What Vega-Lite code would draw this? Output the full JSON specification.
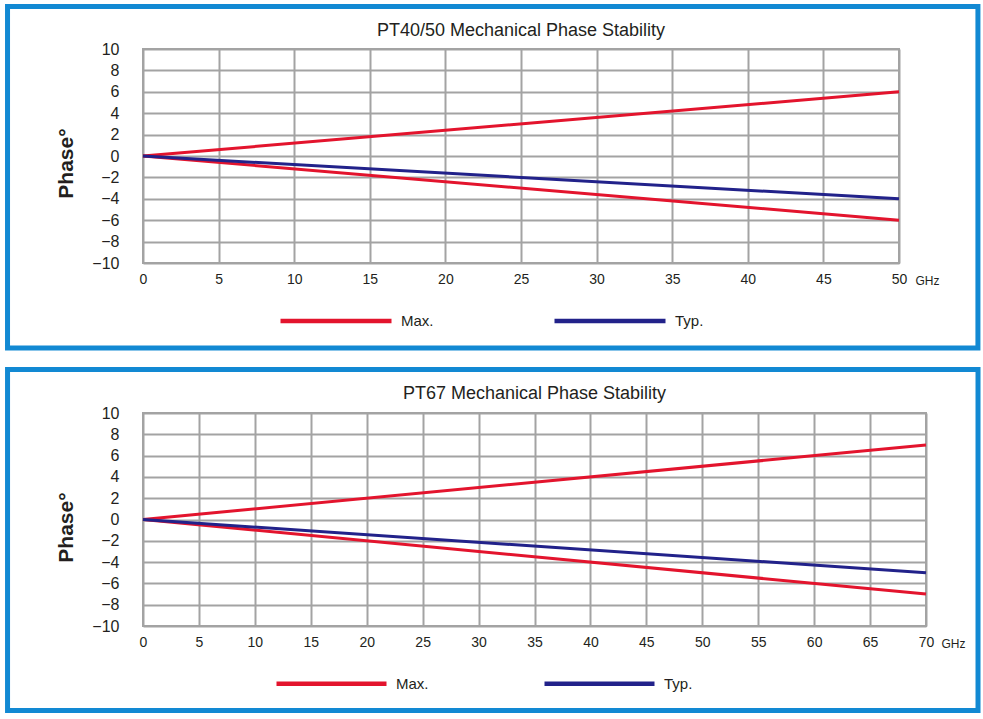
{
  "$schema": "https://vega.github.io/schema/vega-lite/v6.json",
  "padding": {"left": 4, "top": 3, "right": 0, "bottom": 0},
  "background": "white",
  "spacing": 150,
  "bounds": "flush",
  "config": {
    "view": {"stroke": "#a3a3a3", "strokeWidth": 2},
    "axis": {
      "grid": true, "gridColor": "#a3a3a3", "gridWidth": 2, "domain": false, "ticks": false,
      "labelFont": "Liberation Sans", "labelColor": "#231f20", "labelFontSize": 15,
      "labelFlush": false, "labelOverlap": false,
      "titleFont": "Liberation Sans", "titleColor": "#231f20"
    },
    "title": {"font": "Liberation Sans", "fontSize": 18, "fontWeight": "normal", "color": "#231f20", "anchor": "middle", "baseline": "alphabetic", "offset": -36},
    "legend": {"padding": 0}
  },
  "datasets": {
    "pt4050": [
      {"ghz": 0, "phase": 0, "series": "Max.", "branch": "max_up"},
      {"ghz": 50, "phase": 6, "series": "Max.", "branch": "max_up"},
      {"ghz": 0, "phase": 0, "series": "Max.", "branch": "max_down"},
      {"ghz": 50, "phase": -6, "series": "Max.", "branch": "max_down"},
      {"ghz": 0, "phase": 0, "series": "Typ.", "branch": "typ"},
      {"ghz": 50, "phase": -4, "series": "Typ.", "branch": "typ"}
    ],
    "pt67": [
      {"ghz": 0, "phase": 0, "series": "Max.", "branch": "max_up"},
      {"ghz": 70, "phase": 7, "series": "Max.", "branch": "max_up"},
      {"ghz": 0, "phase": 0, "series": "Max.", "branch": "max_down"},
      {"ghz": 70, "phase": -7, "series": "Max.", "branch": "max_down"},
      {"ghz": 0, "phase": 0, "series": "Typ.", "branch": "typ"},
      {"ghz": 70, "phase": -5, "series": "Typ.", "branch": "typ"}
    ]
  },
  "resolve": {"scale": {"color": "independent"}, "legend": {"color": "independent"}},
  "vconcat": [
    {
      "width": 756, "height": 214,
      "title": {"text": "PT40/50 Mechanical Phase Stability"},
      "layer": [
        {
          "data": {"values": [{}]},
          "mark": {"type": "rect", "clip": false, "filled": false, "stroke": "#1289d3", "strokeWidth": 5},
          "encoding": {"x": {"datum": -8.96}, "x2": {"datum": 55.22}, "y": {"datum": 13.97}, "y2": {"datum": -17.94}}
        },
        {
          "data": {"name": "pt4050"},
          "mark": {"type": "line", "strokeWidth": 3},
          "encoding": {
            "x": {"field": "ghz", "type": "quantitative", "scale": {"domain": [0, 50], "nice": false},
              "axis": {"values": [0, 5, 10, 15, 20, 25, 30, 35, 40, 45, 50], "tickCount": 11, "labelPadding": 9, "labelFontSize": 14, "labelOverlap": false, "labelFlush": false,
                "title": "GHz", "titleX": 784, "titleY": 17, "titleBaseline": "middle", "titleAlign": "center", "titleFontSize": 12, "titleFontWeight": "normal"}},
            "y": {"field": "phase", "type": "quantitative", "scale": {"domain": [-10, 10], "nice": false},
              "axis": {"values": [-10, -8, -6, -4, -2, 0, 2, 4, 6, 8, 10], "tickCount": 11, "labelPadding": 24, "labelFontSize": 16, "labelOverlap": false,
                "title": "Phase°", "titleFontSize": 21, "titleFontWeight": "bold", "titleX": -77, "titleY": 114, "titleBaseline": "middle", "titleAngle": -90}},
            "color": {"field": "series", "type": "nominal", "scale": {"domain": ["Max.", "Typ."], "range": ["#e3142d", "#22228a"]},
              "legend": {"orient": "none", "legendX": 135, "legendY": 214, "direction": "horizontal", "title": null,
                "symbolType": "stroke", "symbolSize": 12321, "symbolStrokeWidth": 4.5, "labelFont": "Liberation Sans", "labelFontSize": 15, "labelColor": "#231f20", "labelOffset": 7, "columnPadding": 111}},
            "detail": {"field": "branch"}
          }
        }
      ]
    },
    {
      "width": 783, "height": 213,
      "title": {"text": "PT67 Mechanical Phase Stability"},
      "layer": [
        {
          "data": {"values": [{}]},
          "mark": {"type": "rect", "clip": false, "filled": false, "stroke": "#1289d3", "strokeWidth": 5},
          "encoding": {"x": {"datum": -12.11}, "x2": {"datum": 74.65}, "y": {"datum": 14.08}, "y2": {"datum": -17.93}}
        },
        {
          "data": {"name": "pt67"},
          "mark": {"type": "line", "strokeWidth": 3},
          "encoding": {
            "x": {"field": "ghz", "type": "quantitative", "scale": {"domain": [0, 70], "nice": false},
              "axis": {"values": [0, 5, 10, 15, 20, 25, 30, 35, 40, 45, 50, 55, 60, 65, 70], "tickCount": 15, "labelPadding": 9, "labelFontSize": 14, "labelOverlap": false, "labelFlush": false,
                "title": "GHz", "titleX": 810, "titleY": 17, "titleBaseline": "middle", "titleAlign": "center", "titleFontSize": 12, "titleFontWeight": "normal"}},
            "y": {"field": "phase", "type": "quantitative", "scale": {"domain": [-10, 10], "nice": false},
              "axis": {"values": [-10, -8, -6, -4, -2, 0, 2, 4, 6, 8, 10], "tickCount": 11, "labelPadding": 24, "labelFontSize": 16, "labelOverlap": false,
                "title": "Phase°", "titleFontSize": 21, "titleFontWeight": "bold", "titleX": -77, "titleY": 114, "titleBaseline": "middle", "titleAngle": -90}},
            "color": {"field": "series", "type": "nominal", "scale": {"domain": ["Max.", "Typ."], "range": ["#e3142d", "#22228a"]},
              "legend": {"orient": "none", "legendX": 131, "legendY": 213, "direction": "horizontal", "title": null,
                "symbolType": "stroke", "symbolSize": 12100, "symbolStrokeWidth": 4.5, "labelFont": "Liberation Sans", "labelFontSize": 15, "labelColor": "#231f20", "labelOffset": 7, "columnPadding": 106}},
            "detail": {"field": "branch"}
          }
        }
      ]
    }
  ]
}
